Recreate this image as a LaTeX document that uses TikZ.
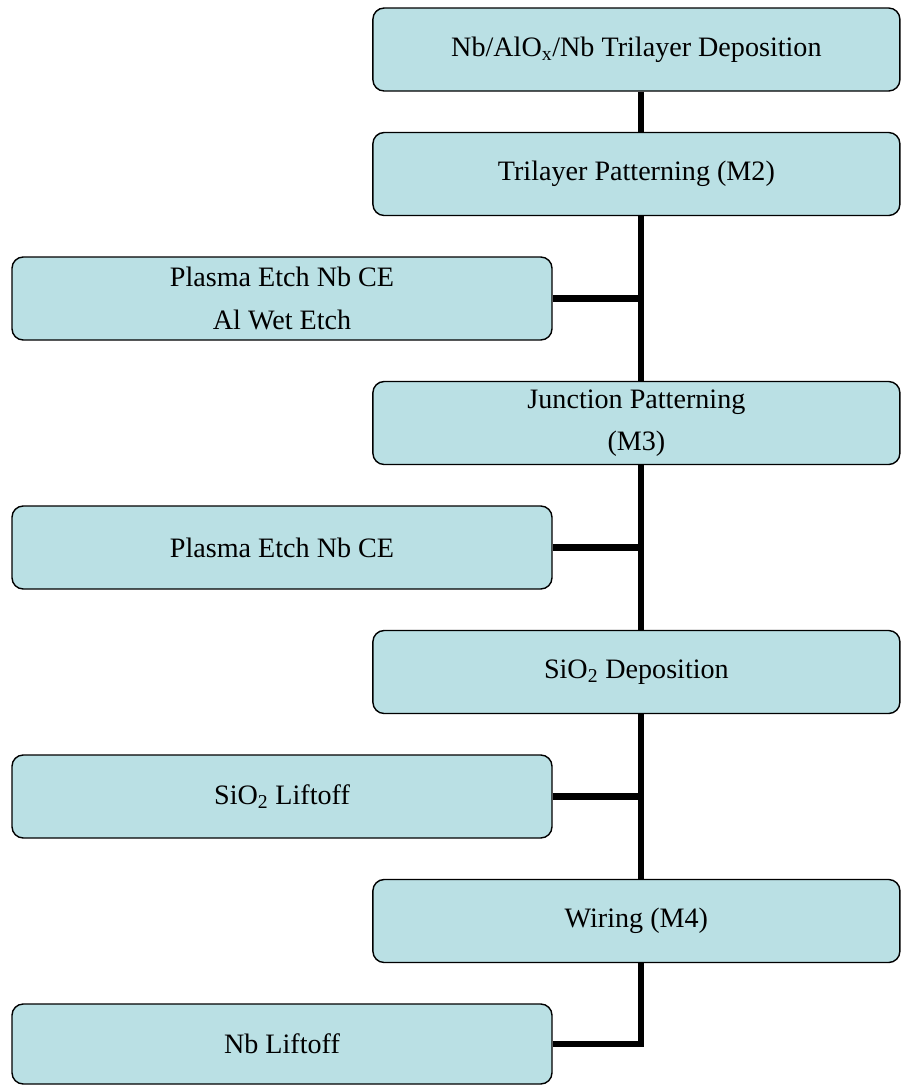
\documentclass[tikz,border=0pt]{standalone}
\usepackage{fontspec}
\setmainfont{Liberation Serif}
\definecolor{boxfill}{RGB}{186,224,228}
\begin{document}
\begin{tikzpicture}[
  stepbox/.style={draw=black,line width=1pt,fill=boxfill,rounded corners=8pt,
    minimum height=2.075cm,align=center,font={\fontsize{20}{30}\selectfont}},
  rightbox/.style={stepbox,minimum width=13.175cm},
  leftbox/.style={stepbox,minimum width=13.5cm},
  link/.style={line width=4.3pt}]
\useasboundingbox (0,0) rectangle (22.6,-27.15);
\coordinate (trunk) at (16.025,0);
\node (dep) at (15.91,-1.2375) [rightbox] {Nb/AlO\textsubscript{x}/Nb Trilayer Deposition};
\node (tri) at (15.91,-4.35) [rightbox] {Trilayer Patterning (M2)};
\node (etcha) at (7.05,-7.4625) [leftbox] {Plasma Etch Nb CE\\Al Wet Etch};
\node (junc) at (15.91,-10.575) [rightbox] {Junction Patterning\\(M3)};
\node (etchb) at (7.05,-13.6875) [leftbox] {Plasma Etch Nb CE};
\node (sio) at (15.91,-16.8) [rightbox] {SiO\textsubscript{2} Deposition};
\node (lift) at (7.05,-19.9125) [leftbox] {SiO\textsubscript{2} Liftoff};
\node (wire) at (15.91,-23.025) [rightbox] {Wiring (M4)};
\node (nblift) at (7.05,-26.1) [leftbox,minimum height=2cm] {Nb Liftoff};
% trunk between the main steps
\draw[link] (dep.south -| trunk) -- (tri.north -| trunk);
\draw[link] (tri.south -| trunk) -- (junc.north -| trunk);
\draw[link] (junc.south -| trunk) -- (sio.north -| trunk);
\draw[link] (sio.south -| trunk) -- (wire.north -| trunk);
\draw[link] (wire.south -| trunk) |- (nblift.east);
% side branches
\draw[link] (etcha.east) -- (etcha.east -| trunk);
\draw[link] (etchb.east) -- (etchb.east -| trunk);
\draw[link] (lift.east) -- (lift.east -| trunk);
\end{tikzpicture}
\end{document}
